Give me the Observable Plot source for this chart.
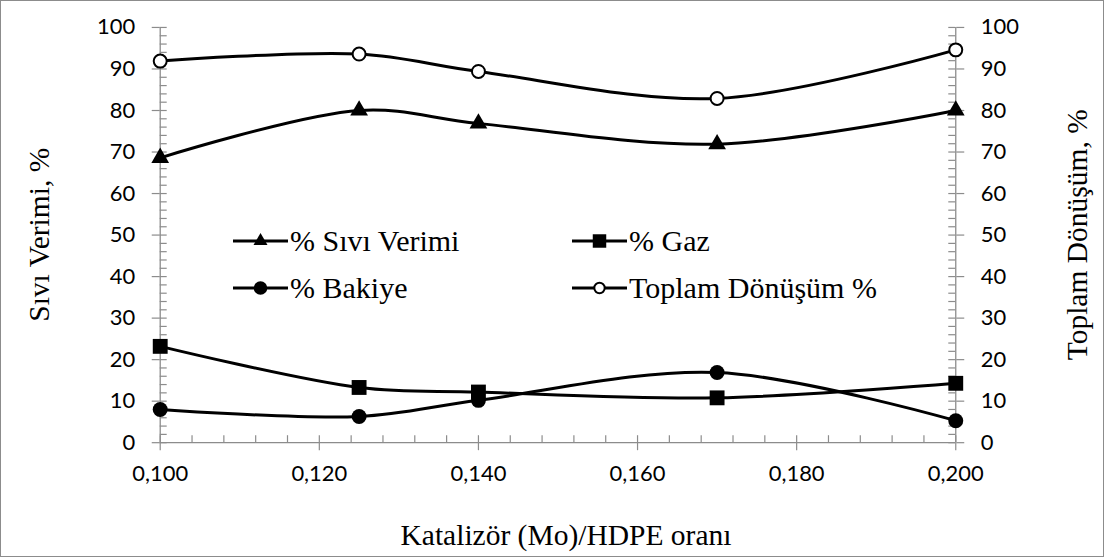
<!DOCTYPE html>
<html>
<head>
<meta charset="utf-8">
<script src="https://cdn.jsdelivr.net/npm/d3@7"></script>
<script src="https://cdn.jsdelivr.net/npm/@observablehq/plot@0.6"></script>
<style>
  html, body { margin: 0; padding: 0; background: #fff; }
  #wrap { position: relative; width: 1104px; height: 557px; box-sizing: border-box; border: 1px solid #8c8c8c; overflow: hidden; }
  #wrap > svg.chart { position: absolute; left: -1px; top: -1px; overflow: visible; }
  .title { position: absolute; font-family: "Liberation Serif", "Times New Roman", serif; font-size: 29.5px; color: #000; white-space: nowrap; line-height: 1; }
  .legend-item { position: absolute; display: flex; align-items: center; font-family: "Liberation Serif", "Times New Roman", serif; font-size: 30px; color: #000; white-space: nowrap; line-height: 1; }
  .legend-item svg { display: block; margin-right: 2px; }
</style>
</head>
<body>
<div id="wrap"></div>
<script>
// ---- data ----
const ratios = [0.100, 0.125, 0.140, 0.170, 0.200];
const siviVerimi = [68.6, 80.0, 76.9, 71.9, 80.0];
const gaz = [23.2, 13.3, 12.2, 10.8, 14.3];
const bakiye = [8.0, 6.3, 10.2, 16.9, 5.3];
const toplamDonusum = [91.9, 93.6, 89.4, 82.9, 94.6];

const seriesNames = ["% Sıvı Verimi", "% Gaz", "% Bakiye", "Toplam Dönüşüm %"];
const seriesValues = [siviVerimi, gaz, bakiye, toplamDonusum];

const xMajorTicks = [0.100, 0.120, 0.140, 0.160, 0.180, 0.200];
const xMinorTicks = d3.range(0, 26).map(i => +(0.1 + i * 0.004).toFixed(3));
const yMajorTicks = d3.range(0, 101, 10);
const yMinorTicks = d3.range(0, 101, 2);

const xTitle = "Katalizör (Mo)/HDPE oranı";
const yTitleLeft = "Sıvı Verimi, %";
const yTitleRight = "Toplam Dönüşüm, %";

// ---- styles per series ----
const symbolStyle = {
  "% Sıvı Verimi":    {symbol: "triangle", r: 6.6, fill: "black", stroke: "none", lr: 5.2},
  "% Gaz":            {symbol: "square",   r: 8.4, fill: "black", stroke: "none", lr: 7.6},
  "% Bakiye":         {symbol: "circle",   r: 7.5, fill: "black", stroke: "none", lr: 6.8},
  "Toplam Dönüşüm %": {symbol: "circle",   r: 6.5, fill: "white", stroke: "black", lr: 5.2}
};

const rows = [];
seriesNames.forEach((name, s) => {
  ratios.forEach((x, i) => rows.push({series: name, x, y: seriesValues[s][i]}));
});

const axisGray = "#8c8c8c";
const fmtX = d => d.toFixed(3).replace(".", ",");

const W = 1104, H = 557;
const mL = 160, mR = 147, mT = 27, mB = 114;
const plotW = W - mL - mR, plotH = H - mT - mB;
const inward = 7;

const chart = Plot.plot({
  width: W,
  height: H,
  marginLeft: mL,
  marginRight: mR,
  marginTop: mT,
  marginBottom: mB,
  style: {fontFamily: "Lato, 'Open Sans', sans-serif", fontSize: "22px", color: "black", background: "transparent", overflow: "visible"},
  x: {domain: [0.1, 0.2]},
  y: {domain: [0, 100]},
  marks: [
    // minor (inward) ticks
    Plot.tickY(yMinorTicks, {y: d => d, stroke: axisGray, strokeWidth: 1.2, insetRight: plotW - inward}),
    Plot.tickY(yMinorTicks, {y: d => d, stroke: axisGray, strokeWidth: 1.2, insetLeft: plotW - inward}),
    Plot.tickX(xMinorTicks, {x: d => d, stroke: axisGray, strokeWidth: 1.2, insetTop: plotH - inward}),
    // major ticks with labels
    Plot.axisY({anchor: "left", ticks: yMajorTicks, tickSize: 8, tickPadding: 17, stroke: axisGray, strokeWidth: 1.2, fill: "black", label: null}),
    Plot.axisY({anchor: "right", ticks: yMajorTicks, tickSize: 8, tickPadding: 17, stroke: axisGray, strokeWidth: 1.2, fill: "black", label: null}),
    Plot.axisX({anchor: "bottom", ticks: xMajorTicks, tickSize: 8, tickPadding: 15, tickFormat: fmtX, stroke: axisGray, strokeWidth: 1.2, fill: "black", label: null}),
    // axis lines
    Plot.ruleY([0], {stroke: axisGray, strokeWidth: 1.3}),
    Plot.ruleX([0.1, 0.2], {stroke: axisGray, strokeWidth: 1.3}),
    // series lines
    Plot.line(rows, {x: "x", y: "y", z: "series", stroke: "black", strokeWidth: 3, curve: "catmull-rom"}),
    // markers
    ...seriesNames.map(name => Plot.dot(rows.filter(d => d.series === name), {
      x: "x", y: "y",
      symbol: () => symbolStyle[name].symbol,
      r: symbolStyle[name].r,
      fill: symbolStyle[name].fill,
      stroke: symbolStyle[name].stroke,
      strokeWidth: 2
    }))
  ]
});
chart.classList.add("chart");

const wrap = document.getElementById("wrap");
wrap.appendChild(chart);

// ---- titles ----
function addTitle(text, cx, cy, rotate) {
  const d = document.createElement("div");
  d.className = "title";
  d.textContent = text;
  wrap.appendChild(d);
  const w = d.offsetWidth, h = d.offsetHeight;
  d.style.left = (cx - w / 2 - 1) + "px";
  d.style.top = (cy - h / 2 - 1) + "px";
  if (rotate) d.style.transform = `rotate(${rotate}deg)`;
}
addTitle(xTitle, 566, 536, 0);
addTitle(yTitleLeft, 40, 235, -90);
addTitle(yTitleRight, 1077, 235, -90);

// ---- legend ----
const legendPos = [[233, 241], [572, 241], [233, 288], [572, 288]];
const symbolMap = {triangle: d3.symbolTriangle, square: d3.symbolSquare, circle: d3.symbolCircle};
seriesNames.forEach((name, i) => {
  const st = symbolStyle[name];
  const item = document.createElement("div");
  item.className = "legend-item";
  const sw = 55, sh = 24;
  const svg = d3.create("svg").attr("width", sw).attr("height", sh);
  svg.append("line").attr("x1", 0).attr("x2", sw).attr("y1", sh / 2).attr("y2", sh / 2)
     .attr("stroke", "black").attr("stroke-width", 3);
  svg.append("path")
     .attr("d", d3.symbol(symbolMap[st.symbol], Math.PI * st.lr * st.lr)())
     .attr("transform", `translate(${sw / 2},${sh / 2})`)
     .attr("fill", st.fill).attr("stroke", st.stroke === "none" ? null : st.stroke)
     .attr("stroke-width", 2);
  item.appendChild(svg.node());
  const t = document.createElement("span");
  t.textContent = name;
  item.appendChild(t);
  wrap.appendChild(item);
  const h = item.offsetHeight;
  item.style.left = (legendPos[i][0] - 1) + "px";
  item.style.top = (legendPos[i][1] - h / 2 - 1) + "px";
});
</script>
</body>
</html>
